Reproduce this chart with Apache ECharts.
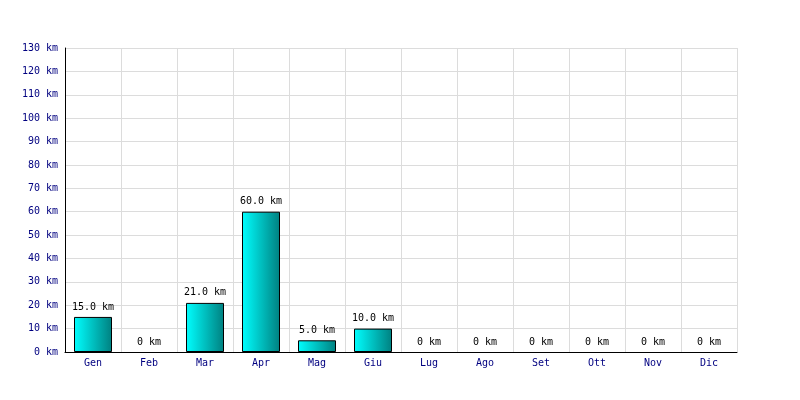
<!DOCTYPE html>
<html><head><meta charset="utf-8">
<script src="https://cdn.jsdelivr.net/npm/echarts@6/dist/echarts.min.js"></script>
<style>html,body{margin:0;padding:0;background:#fff}#c{width:800px;height:400px}</style>
</head><body><div id="c"></div>
<script>
const categories = ['Gen','Feb','Mar','Apr','Mag','Giu','Lug','Ago','Set','Ott','Nov','Dic'];
const distances = [15, 0, 21, 60, 5, 10, 0, 0, 0, 0, 0, 0];
const yMin = 0, yMax = 130, yStep = 10;
const font = 'DejaVu Sans Mono';
const chart = echarts.init(document.getElementById('c'), null, {renderer:'canvas'});
chart.setOption({
  animation: false,
  grid: {left: 65, right: 63, top: 48, bottom: 48, containLabel: false},
  xAxis: {
    type: 'category', data: categories, boundaryGap: true,
    axisLine: {lineStyle: {color: '#000', width: 1}},
    axisTick: {show: false},
    axisLabel: {color: '#000080', fontFamily: font, fontSize: 10, margin: 6},
    splitLine: {show: true, lineStyle: {color: '#dcdcdc', width: 1}}
  },
  yAxis: {
    type: 'value', min: yMin, max: yMax, interval: yStep,
    axisLine: {show: true, lineStyle: {color: '#000', width: 1}},
    axisTick: {show: false},
    axisLabel: {color: '#000080', fontFamily: font, fontSize: 10, margin: 7, formatter: v => v + ' km'},
    splitLine: {show: true, lineStyle: {color: '#dcdcdc', width: 1}}
  },
  series: [{
    type: 'bar', barWidth: 38,
    data: distances.map(v => v === 0 ? {value: v, itemStyle: {borderWidth: 0, color: 'rgba(0,0,0,0)'}} : v),
    itemStyle: {
      color: new echarts.graphic.LinearGradient(0,0,1,0,[{offset:0,color:'#00ffff'},{offset:1,color:'#008080'}]),
      borderColor: '#000', borderWidth: 1
    },
    label: {show: true, position: 'top', distance: 5, color: '#000', fontFamily: font, fontSize: 10,
      formatter: p => p.value === 0 ? '0 km' : p.value.toFixed(1) + ' km'}
  }]
});
</script></body></html>
